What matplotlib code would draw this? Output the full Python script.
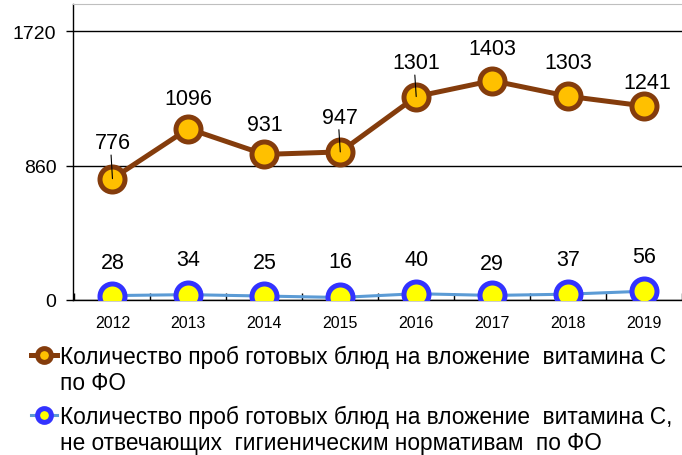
import matplotlib.pyplot as plt

years = ['2012', '2013', '2014', '2015', '2016', '2017', '2018', '2019']
total = [776, 1096, 931, 947, 1301, 1403, 1303, 1241]
failed = [28, 34, 25, 16, 40, 29, 37, 56]
label_total = ['Количество проб готовых блюд на вложение  витамина С', 'по ФО']
label_failed = ['Количество проб готовых блюд на вложение  витамина С,',
                'не отвечающих  гигиеническим нормативам  по ФО']

plt.rcParams['font.family'] = ['Liberation Sans', 'DejaVu Sans']

fig = plt.figure(figsize=(6.82, 4.56), dpi=100)
ax = fig.add_axes([0.107, 0.34, 0.893, 0.649])

x = list(range(len(years)))
ax.plot(x, total, color='#843C0C', lw=3.6, marker='o', ms=18, mfc='#FFC000',
        mec='#843C0C', mew=3.6, label=label_total[0], zorder=3)
ax.plot(x, failed, color='#5B9BD5', lw=2.2, marker='o', ms=18, mfc='#FFFF00',
        mec='#3333FF', mew=3.6, label=label_failed[0], zorder=3)

# data labels (offsets in points from the marker centre), some with leader lines
off_total = [26, 22, 21.5, 25, 24.5, 23, 24.5, 17]
dx_total = [0, 0, 0, 0, 0, 0, 0, 2]
leader = [True, False, False, True, True, False, False, False]
for i, v in enumerate(total):
    ax.annotate(str(v), (i, v), xytext=(dx_total[i], off_total[i]), textcoords='offset points',
                ha='center', va='center', fontsize=15.5, zorder=4)
    if leader[i]:
        ax.annotate('', (i, v), xytext=(-1, off_total[i] - 9), textcoords='offset points',
                    arrowprops=dict(arrowstyle='-', color='black', lw=0.8,
                                    shrinkA=0, shrinkB=0), zorder=4)
off_failed = [24, 25, 24, 26, 24.5, 23, 25, 25]
for i, v in enumerate(failed):
    ax.annotate(str(v), (i, v), xytext=(0, off_failed[i]), textcoords='offset points',
                ha='center', va='center', fontsize=15.5, zorder=4)

ax.set_ylim(0, 1893)
ax.set_yticks([0, 860, 1720])
ax.set_xlim(-0.52, 7.42)
ax.set_xticks(x)
ax.set_xticklabels(years, fontsize=11.5)
ax.set_xticks([i + 0.5 for i in range(-1, 8)], minor=True)
ax.tick_params(axis='x', which='major', length=0, pad=11)
ax.tick_params(axis='x', which='minor', length=5, width=1, direction='in')
ax.tick_params(axis='y', labelsize=14, length=5, width=1, direction='out', pad=7)
ax.grid(axis='y', color='black', lw=1)
ax.spines['right'].set_visible(False)
ax.spines['top'].set_color('#BFBFBF')
ax.spines['left'].set_linewidth(1)
ax.spines['bottom'].set_linewidth(1)

# legend: handles sit on the first line, second lines added as plain text below
leg = fig.legend(loc='upper left', bbox_to_anchor=(0.046, 0.241), frameon=False, fontsize=16.3,
                 handlelength=1.15, handletextpad=0.1, labelspacing=1.6, borderaxespad=0,
                 borderpad=0, markerscale=0.55)
fig.canvas.draw()
for txt, second in zip(leg.get_texts(), [label_total[1], label_failed[1]]):
    bb = txt.get_window_extent()
    yc = (bb.y0 + bb.y1) / 2 - 26
    fig.text(bb.x0 / fig.bbox.width, yc / fig.bbox.height, second, fontsize=16.3,
             ha='left', va='center')

fig.savefig('out.png', dpi=100)
